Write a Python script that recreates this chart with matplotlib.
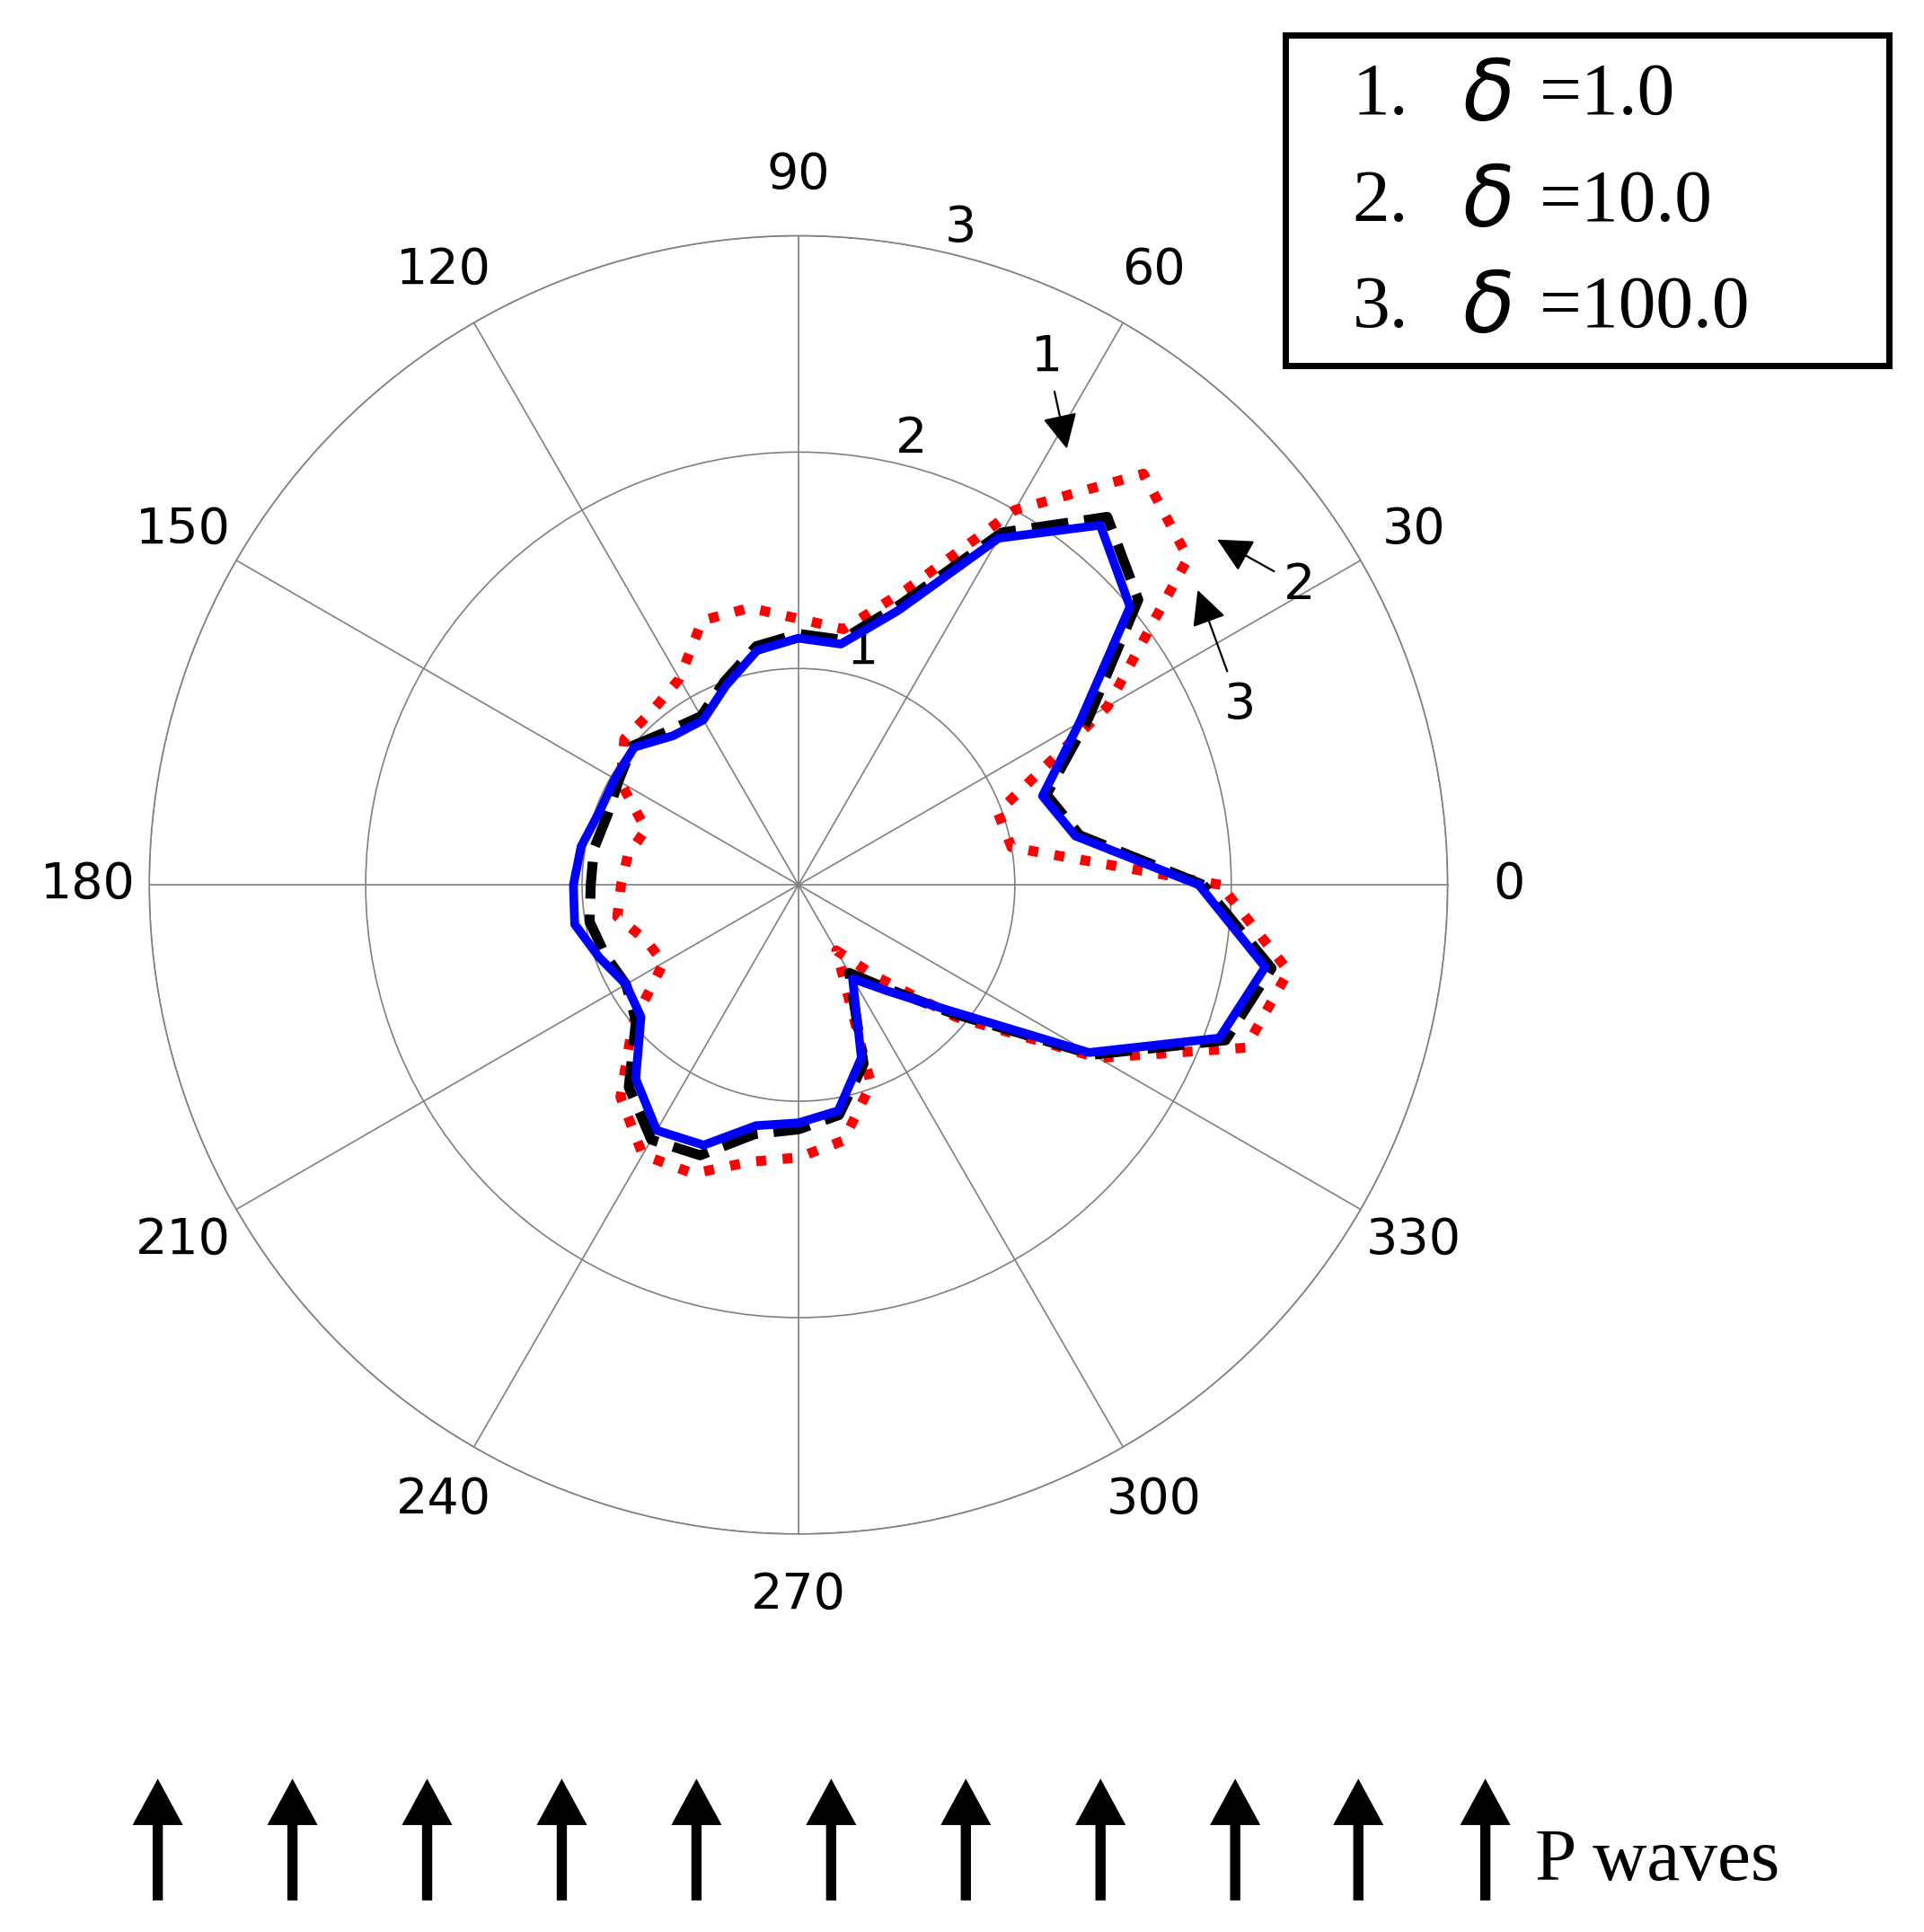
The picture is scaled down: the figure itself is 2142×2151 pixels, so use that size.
import numpy as np
import matplotlib.pyplot as plt

angles_deg = list(range(0, 370, 10))

# radial values, every 10 degrees (last repeats the first)
r_blue = [1.85, 1.30, 1.20, 1.50, 2.00, 2.17, 1.85, 1.35, 1.13, 1.14, 1.10, 0.98,
          0.88, 0.90, 0.99, 0.98, 0.98, 1.02, 1.04, 1.05, 0.98, 0.92, 0.95, 1.17,
          1.31, 1.28, 1.13, 1.10, 1.06, 0.85, 0.50, 0.64, 0.90, 1.55, 2.07, 2.19, 1.85]
r_black = [1.87, 1.32, 1.22, 1.55, 2.05, 2.22, 1.88, 1.38, 1.15, 1.16, 1.12, 1.00,
           0.90, 0.93, 1.00, 0.96, 0.94, 0.96, 0.96, 0.98, 0.95, 0.92, 0.98, 1.22,
           1.36, 1.33, 1.17, 1.13, 1.08, 0.88, 0.47, 0.62, 0.92, 1.57, 2.10, 2.22, 1.87]
r_red = [1.95, 1.00, 0.98, 1.65, 2.35, 2.48, 2.00, 1.45, 1.20, 1.23, 1.30, 1.30,
         1.10, 1.05, 1.05, 0.95, 0.75, 0.80, 0.82, 0.85, 0.75, 0.72, 1.00, 1.28,
         1.44, 1.42, 1.30, 1.26, 1.20, 0.98, 0.35, 0.55, 0.95, 1.60, 2.20, 2.30, 1.95]

legend_labels = ["1.", "2.", "3."]
legend_values = ["1.0", "10.0", "100.0"]
arrow_x = [0.082, 0.152, 0.222, 0.292, 0.362, 0.432, 0.502, 0.572, 0.642, 0.706, 0.772]

theta = np.deg2rad(angles_deg)

fig = plt.figure(figsize=(10.71, 10.755), dpi=200)
ax = fig.add_axes([0.077, 0.206, 0.676, 0.672], projection="polar")

ax.plot(theta, r_red, color="red", linestyle=":", linewidth=4)
ax.plot(theta, r_black, color="black", linestyle="--", linewidth=4)
ax.plot(theta, r_blue, color="blue", linewidth=3.5)

ax.set_ylim(0, 3)
ax.set_yticks([1, 2, 3])
ax.set_yticklabels(["1", "2", "3"], fontsize=20)
ax.set_rlabel_position(77)
ax.set_thetagrids(range(0, 360, 30), [str(a) for a in range(0, 360, 30)], fontsize=20)
ax.tick_params(axis="x", pad=14)
ax.grid(True, color="gray", linewidth=0.6)
ax.spines["polar"].set_color("gray")
ax.spines["polar"].set_linewidth(0.6)

# curve labels with arrows
arrow_props = dict(arrowstyle="-|>", color="black", lw=0.8, mutation_scale=30)
ax.annotate("1", xy=(np.deg2rad(58), 2.35), xytext=(0.536, 0.808),
            textcoords="figure fraction", fontsize=20, arrowprops=arrow_props)
ax.annotate("2", xy=(np.deg2rad(40), 2.5), xytext=(0.667, 0.69),
            textcoords="figure fraction", fontsize=20, arrowprops=arrow_props)
ax.annotate("3", xy=(np.deg2rad(37), 2.3), xytext=(0.636, 0.628),
            textcoords="figure fraction", fontsize=20, arrowprops=arrow_props)

# legend box
fig.patches.append(plt.Rectangle((0.668, 0.811), 0.314, 0.171, transform=fig.transFigure,
                                 fill=False, edgecolor="black", linewidth=2.5))
for i, (lab, val) in enumerate(zip(legend_labels, legend_values)):
    y = 0.950 - i * 0.055
    fig.text(0.703, y, lab, fontsize=30, family="Liberation Serif", va="center")
    fig.text(0.760, y, r"$\delta$", fontsize=34, va="center")
    fig.text(0.800, y, "=" + val, fontsize=30, family="Liberation Serif", va="center")

# incident wave arrows
for x in arrow_x:
    fig.add_artist(plt.matplotlib.patches.FancyArrow(
        x, 0.017, 0, 0.061, width=0.004, head_width=0.024, head_length=0.022,
        length_includes_head=True, color="black", transform=fig.transFigure))
fig.text(0.798, 0.036, "P waves", fontsize=30, family="Liberation Serif", va="center")

fig.savefig("out.png", dpi=200)
